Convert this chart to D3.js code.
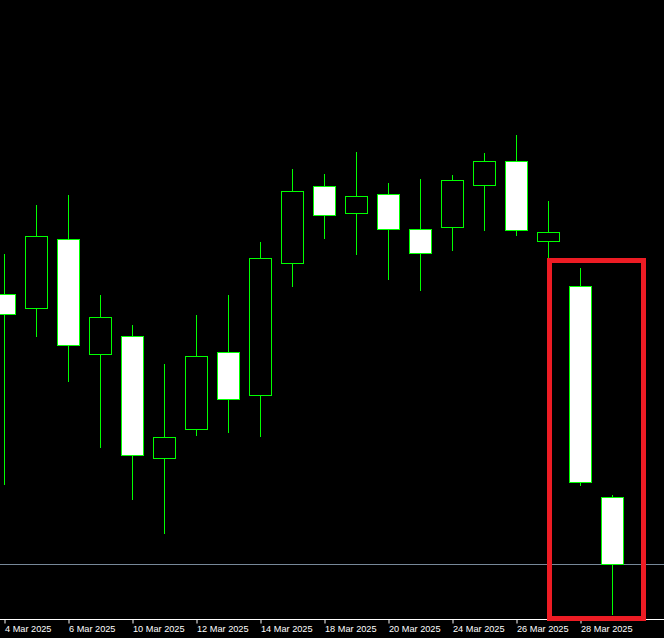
<!DOCTYPE html>
<html lang="en">
<head>
<meta charset="UTF-8">
<title>Daily candles</title>
<script src="https://cdn.jsdelivr.net/npm/d3@7"></script>
<style>
    html, body { margin: 0; padding: 0; background: #000; }
    svg { display: block; }
</style>
</head>
<body>
<script>
    // daily bars, 4 Mar - 31 Mar 2025
    const dates = ["2025-03-04", "2025-03-05", "2025-03-06", "2025-03-07", "2025-03-10",
        "2025-03-11", "2025-03-12", "2025-03-13", "2025-03-14", "2025-03-17",
        "2025-03-18", "2025-03-19", "2025-03-20", "2025-03-21", "2025-03-24",
        "2025-03-25", "2025-03-26", "2025-03-27", "2025-03-28", "2025-03-31"];
    const open  = [1.0706, 1.0692, 1.0761, 1.0646, 1.0664, 1.0542, 1.0571, 1.0648, 1.0605, 1.0737,
                   1.0814, 1.0787, 1.0806, 1.0771, 1.0773, 1.0815, 1.0839, 1.0759, 1.0714, 1.0503];
    const high  = [1.0746, 1.0795, 1.0805, 1.0705, 1.0675, 1.0636, 1.0685, 1.0705, 1.0758, 1.0831,
                   1.0826, 1.0848, 1.0817, 1.0821, 1.0825, 1.0847, 1.0865, 1.0799, 1.0732, 1.0505];
    const low   = [1.0516, 1.0664, 1.0619, 1.0553, 1.0501, 1.0467, 1.0565, 1.0568, 1.0564, 1.0714,
                   1.0762, 1.0746, 1.0721, 1.0710, 1.0750, 1.0770, 1.0765, 1.0738, 1.0515, 1.0386];
    const close = [1.0686, 1.0764, 1.0655, 1.0683, 1.0545, 1.0563, 1.0644, 1.0601, 1.0742, 1.0809,
                   1.0785, 1.0804, 1.0771, 1.0747, 1.0820, 1.0839, 1.0770, 1.0768, 1.0518, 1.0436];
    const tickDates = ["2025-03-04", "2025-03-06", "2025-03-10", "2025-03-12", "2025-03-14",
        "2025-03-18", "2025-03-20", "2025-03-24", "2025-03-26", "2025-03-28"];
    const bid = 1.0436;
    const highlighted = ["2025-03-28", "2025-03-31"];

    const width = 664, height = 638;
    const axisY = 619.5;
    const half = 11;

    const svg = d3.select("body").append("svg")
        .attr("width", width)
        .attr("height", height)
        .style("background", "#000");

    const x = d3.scalePoint().domain(dates).range([4.5, 612.5]);
    const y = d3.scaleLinear().domain([1.1, 1.0362]).range([0, 638]);
    const row = v => Math.round(y(v));

    const data = dates.map((d, i) => ({ date: d, o: open[i], h: high[i], l: low[i], c: close[i] }));

    // bid line
    svg.append("line")
        .attr("x1", 0).attr("x2", width)
        .attr("y1", row(bid) + 0.5).attr("y2", row(bid) + 0.5)
        .attr("stroke", "#778899")
        .attr("stroke-width", 1);

    const candle = svg.append("g").selectAll("g")
        .data(data)
        .enter().append("g");

    candle.append("line")
        .attr("x1", d => x(d.date)).attr("x2", d => x(d.date))
        .attr("y1", d => row(d.h))
        .attr("y2", d => row(d.l) + 1)
        .attr("stroke", "#00ff00")
        .attr("stroke-width", 1);

    candle.append("rect")
        .attr("x", d => x(d.date) - half)
        .attr("width", half * 2)
        .attr("y", d => Math.min(row(d.o), row(d.c)) + 0.5)
        .attr("height", d => Math.abs(row(d.o) - row(d.c)))
        .attr("fill", d => d.c > d.o ? "#000" : "#fff")
        .attr("stroke", "#00ff00")
        .attr("stroke-width", 1);

    // time axis
    const xAxis = d3.axisBottom(x)
        .tickValues(tickDates)
        .tickSize(4)
        .tickSizeOuter(0)
        .tickFormat(d => d3.timeFormat("%-d %b %Y")(d3.timeParse("%Y-%m-%d")(d)));

    const ax = svg.append("g")
        .attr("transform", "translate(0," + axisY + ")")
        .call(xAxis);
    ax.select(".domain").remove();
    ax.selectAll(".tick line").attr("stroke", "#fff").attr("y1", 0);
    ax.selectAll(".tick text")
        .attr("fill", "#fff")
        .attr("y", 12.5)
        .attr("dy", 0)
        .attr("x", 0)
        .style("text-anchor", "start")
        .style("font-family", "'Liberation Sans', Arial, sans-serif")
        .style("font-size", "9.2px");

    svg.append("line")
        .attr("x1", 0).attr("x2", width)
        .attr("y1", axisY).attr("y2", axisY)
        .attr("stroke", "#fff")
        .attr("stroke-width", 1);

    // highlight box around the last two bars
    const boxLeft = x(highlighted[0]) - 31;
    const boxRight = x(highlighted[1]) + 31;
    const boxTop = row(high[dates.indexOf(highlighted[0])]) - 7.5;
    svg.append("rect")
        .attr("x", boxLeft)
        .attr("y", boxTop)
        .attr("width", boxRight - boxLeft)
        .attr("height", 618.5 - boxTop)
        .attr("fill", "none")
        .attr("stroke", "#ed1c24")
        .attr("stroke-width", 5);
</script>
</body>
</html>
